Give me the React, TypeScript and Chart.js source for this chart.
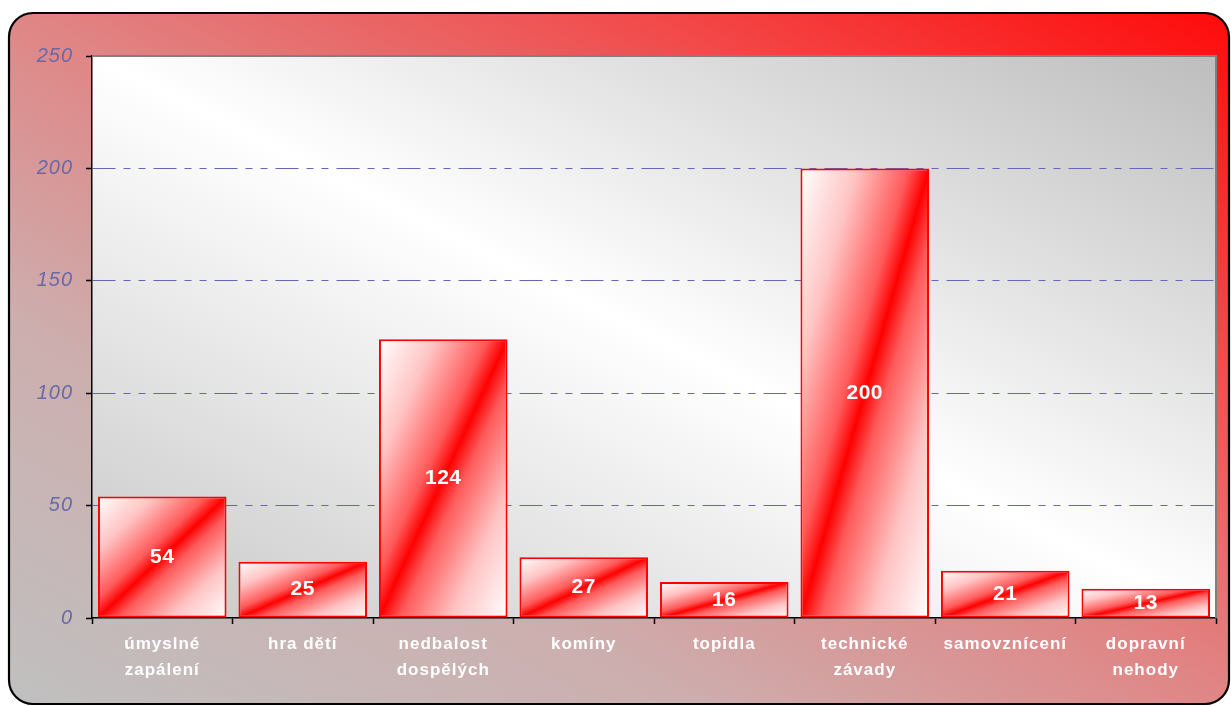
import React, { useEffect, useRef } from 'react';
import { Chart, registerables } from 'chart.js';

Chart.register(...registerables);

const categories: string[][] = [
  ['úmyslné', 'zapálení'],
  ['hra dětí'],
  ['nedbalost', 'dospělých'],
  ['komíny'],
  ['topidla'],
  ['technické', 'závady'],
  ['samovznícení'],
  ['dopravní', 'nehody'],
];
const values: number[] = [54, 25, 124, 27, 16, 200, 21, 13];
const yMin = 0;
const yMax = 250;
const yStep = 50;

const BAR_PCT = 0.915;
const FONT = '"Liberation Sans", Arial, sans-serif';

// gradient whose isolines run parallel to the top-left -> bottom-right diagonal,
// going from bottom-left corner (t=0) to top-right corner (t=1)
function gradBLtoTR(ctx: CanvasRenderingContext2D, x0: number, y0: number, w: number, h: number) {
  const k = (2 * w * h) / (w * w + h * h);
  return ctx.createLinearGradient(x0, y0 + h, x0 + h * k, y0 + h - w * k);
}
// isolines parallel to the anti-diagonal, from top-left (t=0) to bottom-right (t=1)
function gradTLtoBR(ctx: CanvasRenderingContext2D, x0: number, y0: number, w: number, h: number) {
  const k = (2 * w * h) / (w * w + h * h);
  return ctx.createLinearGradient(x0, y0, x0 + h * k, y0 + w * k);
}

const backgroundPlugin = {
  id: 'frameBackground',
  beforeDraw(chart: any) {
    const ctx: CanvasRenderingContext2D = chart.ctx;
    const W = chart.width;
    const H = chart.height;
    ctx.save();
    // outer rounded frame
    const fx = 9, fy = 13, fw = W - 2 - fx, fh = H - 2 - fy, r = 24;
    const g = gradBLtoTR(ctx, fx, fy, fw, fh);
    g.addColorStop(0, '#c0c0c0');
    g.addColorStop(0.28, '#cdaeae');
    g.addColorStop(0.5, '#e08686');
    g.addColorStop(0.75, '#f24c4c');
    g.addColorStop(1, '#ff0a0a');
    ctx.beginPath();
    ctx.roundRect(fx, fy, fw, fh, r);
    ctx.fillStyle = g;
    ctx.fill();
    ctx.lineWidth = 2.2;
    ctx.strokeStyle = '#000000';
    ctx.stroke();
    // plot area
    const a = chart.chartArea;
    const pg = gradBLtoTR(ctx, a.left, a.top, a.right - a.left, a.bottom - a.top);
    pg.addColorStop(0, '#c6c6c6');
    pg.addColorStop(0.5, '#ffffff');
    pg.addColorStop(1, '#bdbdbd');
    ctx.fillStyle = pg;
    ctx.fillRect(a.left, a.top, a.right - a.left, a.bottom - a.top);
    ctx.restore();
    (ctx as any).letterSpacing = '1px';
  },
  afterDraw(chart: any) {
    const ctx: CanvasRenderingContext2D = chart.ctx;
    const a = chart.chartArea;
    ctx.save();
    ctx.strokeStyle = '#808080';
    ctx.lineWidth = 2;
    ctx.beginPath();
    ctx.moveTo(a.left, a.top);
    ctx.lineTo(a.right, a.top);
    ctx.lineTo(a.right, a.bottom);
    ctx.stroke();
    ctx.restore();
  },
};

const valueLabelPlugin = {
  id: 'valueLabels',
  afterDatasetsDraw(chart: any) {
    const ctx: CanvasRenderingContext2D = chart.ctx;
    const meta = chart.getDatasetMeta(0);
    ctx.save();
    (ctx as any).letterSpacing = '0.5px';
    ctx.fillStyle = '#ffffff';
    ctx.font = `bold 21px ${FONT}`;
    ctx.textAlign = 'center';
    ctx.textBaseline = 'middle';
    meta.data.forEach((el: any, i: number) => {
      const y = (el.y + el.base) / 2;
      ctx.fillText(String(values[i]), el.x, y);
    });
    ctx.restore();
  },
};

export default function App() {
  const ref = useRef<HTMLCanvasElement | null>(null);

  useEffect(() => {
    if (!ref.current) return;
    const chart = new Chart(ref.current, {
      type: 'bar',
      data: {
        labels: categories,
        datasets: [
          {
            data: values,
            borderColor: '#ff0000',
            borderWidth: 2,
            borderSkipped: false,
            categoryPercentage: 1,
            barPercentage: BAR_PCT,
            backgroundColor: (c: any) => {
              const ch = c.chart;
              const xs = ch.scales && ch.scales.x;
              const ys = ch.scales && ch.scales.y;
              if (!xs || !ys || !xs.width) return '#ff4040';
              const cw = xs.width / categories.length;
              const bw = cw * BAR_PCT;
              const cx = xs.getPixelForValue(c.dataIndex);
              const top = ys.getPixelForValue(c.raw);
              const base = ys.getPixelForValue(0);
              const h = base - top;
              if (!(bw > 0) || !(h > 0) || !isFinite(cx)) return '#ff4040';
              const g = gradTLtoBR(ch.ctx, cx - bw / 2, top, bw, h);
              g.addColorStop(0, '#ffffff');
              g.addColorStop(0.22, '#ffc4c4');
              g.addColorStop(0.42, '#ff5a5a');
              g.addColorStop(0.5, '#ff0000');
              g.addColorStop(0.58, '#ff5a5a');
              g.addColorStop(0.78, '#ffc4c4');
              g.addColorStop(1, '#ffffff');
              return g;
            },
          },
        ],
      },
      options: {
        animation: false,
        responsive: true,
        maintainAspectRatio: false,
        layout: { padding: { left: 0, top: 56, right: 15, bottom: 0 } },
        plugins: {
          legend: { display: false },
          tooltip: { enabled: false },
        },
        scales: {
          x: {
            offset: true,
            grid: {
              offset: true,
              drawOnChartArea: false,
              drawTicks: true,
              tickLength: 6,
              tickColor: '#000000',
              tickWidth: 1.5,
            },
            border: { display: true, color: '#000000', width: 1.5 },
            ticks: {
              color: '#ffffff',
              padding: 7,
              maxRotation: 0,
              autoSkip: false,
              font: { family: FONT, size: 17, weight: 'bold', lineHeight: '26px' },
            },
            afterFit: (s: any) => {
              s.height = 88;
            },
          },
          y: {
            min: yMin,
            max: yMax,
            grid: {
              color: (c: any) =>
                c.tick && (c.tick.value === yMin || c.tick.value === yMax) ? 'rgba(0,0,0,0)' : '#6666b4',
              lineWidth: 1,
              tickColor: '#000000',
              tickLength: 6,
              tickWidth: 1.5,
              tickBorderDash: [],
            },
            border: { display: true, color: '#000000', width: 1.5, dash: [23, 8, 7, 8, 7, 8] },
            ticks: {
              stepSize: yStep,
              color: '#6868a8',
              padding: 13,
              font: { family: FONT, size: 20, style: 'italic' },
            },
            afterFit: (s: any) => {
              s.width = 92;
            },
          },
        },
      },
      plugins: [backgroundPlugin, valueLabelPlugin],
    } as any);
    return () => chart.destroy();
  }, []);

  return (
    <div style={{ position: 'fixed', left: 0, top: 0, width: 1231, height: 706, background: '#ffffff' }}>
      <canvas ref={ref} />
    </div>
  );
}
